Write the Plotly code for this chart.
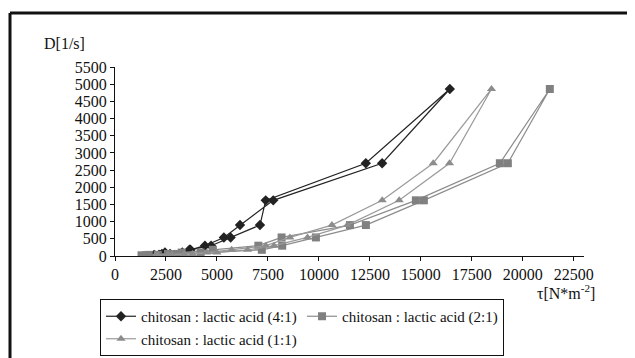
import plotly.graph_objects as go

# Shear rate levels (D, 1/s) - up curve and down curve
D_up = [20, 33, 60, 100, 180, 300, 540, 900, 1620, 2700, 4860]
D_down = [2700, 1620, 900, 540, 300, 180, 100, 60, 33, 20]

# Shear stress (tau) for each composition
tau_up_41 = [1900, 2200, 2700, 3300, 3700, 4410, 5340, 6130, 7760, 13100, 16420]
tau_down_41 = [12300, 7390, 7110, 5670, 4710, 3650, 2450, 2300, 2150, 1950]

tau_up_21 = [1300, 1650, 2600, 3270, 4800, 7030, 8170, 11520, 14755, 18873, 21324]
tau_down_21 = [19265, 15147, 12304, 9853, 8200, 7200, 4200, 3000, 2100, 1500]

tau_up_11 = [2000, 2600, 3400, 4500, 5720, 7400, 8578, 10637, 13105, 15605, 18464]
tau_down_11 = [16405, 13938, 11400, 9441, 7800, 6500, 5000, 3800, 2800, 2100]

names = ["chitosan : lactic acid (4:1)",
         "chitosan : lactic acid (2:1)",
         "chitosan : lactic acid (1:1)"]

x_ticks = [0, 2500, 5000, 7500, 10000, 12500, 15000, 17500, 20000, 22500]
y_ticks = [0, 500, 1000, 1500, 2000, 2500, 3000, 3500, 4000, 4500, 5000, 5500]

FONT = "Liberation Serif"
FS = 16
LFS = 15

fig = go.Figure()

fig.add_trace(go.Scatter(
    x=tau_up_41 + tau_down_41, y=D_up + D_down, mode="lines+markers",
    name=names[0],
    line=dict(color="#222222", width=1.2),
    marker=dict(symbol="diamond", size=8, color="#222222"),
))
fig.add_trace(go.Scatter(
    x=tau_up_21 + tau_down_21, y=D_up + D_down, mode="lines+markers",
    name=names[1],
    line=dict(color="#8c8c8c", width=1.2),
    marker=dict(symbol="square", size=8, color="#808080"),
))
fig.add_trace(go.Scatter(
    x=tau_up_11 + tau_down_11, y=D_up + D_down, mode="lines+markers",
    name=names[2],
    line=dict(color="#9a9a9a", width=1.2),
    marker=dict(symbol="triangle-up", size=8, color="#8c8c8c"),
))

# The page body adds an 8px offset; the figure is sized so its content lands
# at the reference's screen positions.
OFF = 8
W, H = 635 - OFF, 358 - OFF
L, R, T = 115 - OFF, W - (584 - OFF), 67 - OFF
B = H - (256 - OFF)
pw, ph = W - L - R, H - T - B


def px(xs):
    return (xs - OFF - L) / pw


def py(ys):
    return (H - B - (ys - OFF)) / ph


fig.update_layout(
    width=W, height=H,
    margin=dict(l=L, r=R, t=T, b=B, autoexpand=False),
    paper_bgcolor="white", plot_bgcolor="white",
    font=dict(family=FONT, size=FS, color="#111111"),
    showlegend=True,
    legend=dict(
        orientation="h",
        x=(100 - OFF) / W, y=1 - (299 - OFF) / H, xanchor="left", yanchor="top",
        xref="container", yref="container",
        bordercolor="#111111", borderwidth=1, bgcolor="white",
        font=dict(family=FONT, size=LFS, color="#111111"),
        entrywidth=156, entrywidthmode="pixels",
        itemwidth=30, tracegroupgap=0,
    ),
    xaxis=dict(
        range=[0, 23000], tickvals=x_ticks, ticktext=[str(v) for v in x_ticks],
        showgrid=False, zeroline=False, showline=True, linecolor="#111111", linewidth=1,
        ticks="outside", ticklen=4, tickcolor="#111111",
        tickfont=dict(family=FONT, size=FS, color="#111111"),
    ),
    yaxis=dict(
        range=[0, 5500], tickvals=y_ticks, ticktext=[str(v) for v in y_ticks],
        showgrid=False, zeroline=False, showline=True, linecolor="#111111", linewidth=1,
        ticks="outside", ticklen=4, tickcolor="#111111",
        tickfont=dict(family=FONT, size=FS, color="#111111"),
    ),
    annotations=[
        dict(text="D[1/s]", xref="paper", yref="paper", x=px(42), y=py(43),
             xanchor="left", yanchor="middle", showarrow=False,
             font=dict(family=FONT, size=FS, color="#111111")),
        dict(text="τ[N*m<sup>-2</sup>]", xref="paper", yref="paper", x=px(597), y=py(292),
             xanchor="right", yanchor="middle", showarrow=False,
             font=dict(family=FONT, size=FS, color="#111111")),
    ],
    shapes=[
        dict(type="line", xref="paper", yref="paper", x0=px(10), x1=px(640),
             y0=py(13), y1=py(13), line=dict(color="#111111", width=3)),
        dict(type="line", xref="paper", yref="paper", x0=px(10), x1=px(10),
             y0=py(13), y1=py(365), line=dict(color="#111111", width=3)),
    ],
)

fig.write_html("out.html")
